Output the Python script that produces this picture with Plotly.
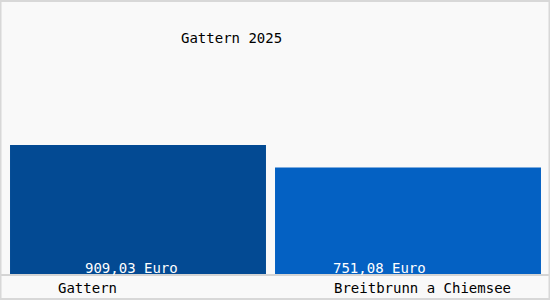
import plotly.graph_objects as go

categories = ["Gattern", "Breitbrunn a Chiemsee"]
values = [909.03, 751.08]
value_labels = ["909,03 Euro", "751,08 Euro"]
title_text = "Gattern 2025"
bar_colors = ["#034a93", "#0461c3"]
bar_widths = [0.948, 0.985]

W, H = 550, 300
plot_top, plot_bottom = 16, 274
plot_h = plot_bottom - plot_top
px_per_cat = 270.0
first_center_px = 138.0
bar_px = 129.0
ymax = values[0] * plot_h / bar_px

x0 = -first_center_px / px_per_cat
x1 = (W - first_center_px) / px_per_cat

font = "DejaVu Sans Mono, monospace"

fig = go.Figure()
fig.add_trace(go.Bar(
    x=[0, 1], y=values, width=bar_widths,
    marker=dict(color=bar_colors, line=dict(width=0)),
    hoverinfo="skip",
))

def px_to_paper_y(py):
    return (plot_bottom - py) / plot_h

def px_to_data_x(px):
    return (px - first_center_px) / px_per_cat

annotations = [
    dict(text=title_text, x=px_to_data_x(231), y=px_to_paper_y(38), xref="x", yref="paper",
         showarrow=False, font=dict(family=font, size=14, color="#000000"), xanchor="center", yanchor="middle"),
]
value_x = [131, 379]
cat_x = [87, 422]
for i in range(len(categories)):
    annotations.append(dict(text=value_labels[i], x=px_to_data_x(value_x[i]), y=px_to_paper_y(268),
                            xref="x", yref="paper", showarrow=False,
                            font=dict(family=font, size=14, color="#ffffff"),
                            xanchor="center", yanchor="middle"))
    annotations.append(dict(text=categories[i], x=px_to_data_x(cat_x[i]), y=px_to_paper_y(288),
                            xref="x", yref="paper", showarrow=False,
                            font=dict(family=font, size=14, color="#000000"),
                            xanchor="center", yanchor="middle"))

shapes = [
    # axis line
    dict(type="line", xref="paper", yref="paper", x0=0, x1=1,
         y0=px_to_paper_y(275), y1=px_to_paper_y(275), line=dict(color="#b0b0b0", width=1)),
    # outer border
    dict(type="rect", xref="paper", yref="paper", x0=0.5 / W, x1=1 - 0.5 / W,
         y0=px_to_paper_y(H - 1), y1=px_to_paper_y(1),
         line=dict(color="#d8d8d8", width=2), fillcolor="rgba(0,0,0,0)"),
]

fig.update_layout(
    width=W, height=H,
    margin=dict(l=0, r=0, t=plot_top, b=H - plot_bottom, pad=0),
    paper_bgcolor="#f9f9f9", plot_bgcolor="#f9f9f9",
    showlegend=False,
    xaxis=dict(range=[x0, x1], visible=False, fixedrange=True),
    yaxis=dict(range=[0, ymax], visible=False, fixedrange=True),
    annotations=annotations, shapes=shapes,
)

fig.write_html("out.html", config={"displayModeBar": False})
